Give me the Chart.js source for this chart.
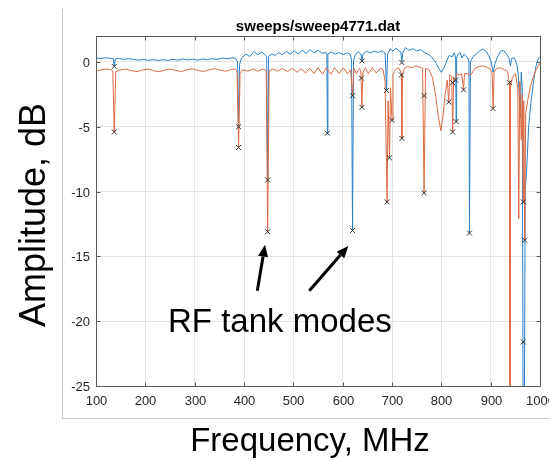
<!DOCTYPE html>
<html lang="en">
<head>
<meta charset="UTF-8">
<title>sweeps/sweep4771.dat</title>
<script src="https://cdn.jsdelivr.net/npm/chart.js@4"></script>
<style>
  html, body { margin: 0; padding: 0; background: #ffffff; }
  #chartCanvas { display: block; }
</style>
</head>
<body>
<canvas id="chartCanvas" width="549" height="461" style="width:549px;height:461px"></canvas>
<script>
// axis ticks
const xTicks = [100, 200, 300, 400, 500, 600, 700, 800, 900, 1000];
const yTicks = [0, -5, -10, -15, -20, -25];

// blue sweep: [frequency MHz, amplitude dB]
const bluePts = [
  [100,0.30],[110,0.27],[120,0.32],[130,0.27],[135,0.25],[137,-0.35],[139,0.22],[146,0.27],
  [156,0.20],[166,0.25],[176,0.19],[186,0.14],[196,0.20],[206,0.12],[216,0.18],[226,0.11],
  [236,0.17],[246,0.12],[256,0.20],[266,0.14],[276,0.22],[286,0.16],[296,0.21],[306,0.14],
  [316,0.22],[326,0.18],[336,0.25],[346,0.20],[356,0.30],[366,0.24],[376,0.32],[383,0.28],
  [387,0.0],[389,-5.0],[391,-0.2],[395,0.30],[404,0.60],[412,0.42],[420,0.80],[428,0.55],
  [436,0.78],[443,0.50],[446,0.40],[448,-9.1],[450,0.45],[456,0.62],[463,0.50],[470,0.72],
  [478,0.55],[486,0.80],[494,0.60],[502,0.86],[510,0.60],[518,0.90],[526,0.66],[534,0.95],
  [542,0.70],[550,0.90],[558,0.66],[566,0.72],[568,0.60],[569,-5.5],[570,0.60],[577,0.76],
  [585,0.60],[593,0.72],[601,0.56],[609,0.70],[615,0.60],[618,0.20],[620,-13.0],[622,0.10],
  [626,0.60],[632,0.76],[637,0.60],[639,0.08],[641,0.60],[648,0.82],[656,0.70],[664,0.82],
  [672,0.74],[680,0.86],[686,0.70],[689,-2.2],[691,0.60],[696,1.00],[702,0.85],[708,1.05],
  [714,0.90],[718,0.70],[720,0.05],[722,0.70],[727,1.10],[734,0.90],[742,1.02],[750,0.85],
  [758,0.95],[766,0.72],[773,0.60],[780,0.40],[788,0.0],[795,-0.5],[800,-0.8],[805,-0.5],
  [810,0.0],[816,0.50],[822,0.40],[826,0.70],[829,0.30],[830,-4.6],[831,0.30],[834,0.60],
  [838,0.72],[842,0.30],[846,0.60],[850,0.45],[854,0.30],[856,0.0],[857,-13.2],[859,0.0],
  [864,0.40],[871,0.62],[878,0.86],[884,1.00],[890,0.85],[896,0.50],[901,0.0],[905,-0.8],
  [909,-0.1],[914,0.40],[920,0.80],[926,0.90],[932,0.62],[937,0.30],[940,-0.3],[943,0.30],
  [948,0.30],[953,-0.2],[956,-1.0],[960,-4.3],[962,-0.8],[964,-2.0],[966,-30],[968,-30],
  [970,-10],[973,-8.3],[977,-5.0],[982,-3.0],[987,-1.5],[992,-0.3],[996,0.20],[1000,0.40]
];

// orange sweep: [frequency MHz, amplitude dB]
const orangePts = [
  [100,-0.70],[110,-0.62],[120,-0.55],[130,-0.60],[134,-0.70],[137,-5.4],[140,-0.75],[150,-0.62],
  [160,-0.55],[172,-0.68],[183,-0.75],[195,-0.62],[205,-0.55],[217,-0.68],[228,-0.75],[240,-0.62],
  [250,-0.55],[262,-0.66],[273,-0.74],[285,-0.60],[295,-0.54],[307,-0.66],[318,-0.74],[330,-0.60],
  [340,-0.52],[352,-0.64],[363,-0.72],[375,-0.58],[383,-0.55],[386,-0.80],[389,-6.6],[392,-0.90],
  [397,-0.60],[408,-0.72],[418,-0.55],[428,-0.72],[438,-0.55],[445,-0.65],[448,-13.1],[451,-0.70],
  [458,-0.55],[468,-0.72],[478,-0.50],[488,-0.75],[498,-0.50],[508,-0.80],[515,-0.50],[525,-0.85],
  [533,-0.50],[542,-0.90],[550,-0.45],[559,-0.95],[567,-0.45],[576,-0.95],[584,-0.45],[593,-0.90],
  [601,-0.45],[610,-0.90],[616,-0.60],[620,-2.6],[623,-0.50],[628,-0.90],[634,-0.50],[637,-0.70],
  [639,-3.5],[641,-0.80],[646,-0.45],[652,-0.90],[660,-0.45],[668,-0.85],[676,-0.50],[682,-0.60],
  [686,-1.5],[690,-10.8],[692,-3.0],[695,-7.4],[697,-2.0],[700,-4.5],[702,-1.0],[707,-0.60],
  [713,-0.45],[717,-0.70],[719,-1.0],[720,-5.9],[721,-1.0],[725,-0.50],[732,-0.35],[740,-0.45],
  [748,-0.30],[756,-0.40],[762,-0.50],[765,-10.1],[768,-0.50],[775,-0.60],[782,-1.2],[788,-2.5],
  [794,-4.2],[799,-5.3],[803,-4.3],[808,-2.4],[812,-1.4],[815,-3.1],[817,-1.0],[821,-1.1],
  [823,-5.4],[825,-1.2],[829,-1.4],[831,-0.90],[836,-1.0],[841,-0.90],[845,-2.15],[847,-0.90],
  [853,-0.90],[860,-1.0],[868,-0.50],[876,-0.35],[884,-0.30],[892,-0.40],[899,-0.55],[903,-0.90],
  [905,-3.6],[907,-0.80],[912,-0.50],[920,-0.45],[928,-0.60],[934,-0.70],[938,-1.6],[939,-30],
  [940,-2.0],[944,-1.2],[950,-0.90],[955,-2.0],[957,-12.1],[959,-1.5],[962,-6.0],[964,-2.5],
  [966,-10.8],[967,-3.0],[969,-13.75],[971,-4.0],[975,-3.0],[980,-2.0],[986,-1.2],[992,-0.60],
  [1000,-0.10]
];

// detected resonances (x markers): [frequency MHz, amplitude dB]
const markerPts = [
  [137,-0.35],[137,-5.4],[389,-5.0],[389,-6.6],[448,-9.1],[448,-13.1],[569,-5.5],[620,-13.0],
  [620,-2.6],[639,0.08],[638,-1.25],[639,-3.5],[689,-2.2],[690,-10.8],[695,-7.4],[700,-4.5],
  [720,-0.05],[719,-1.0],[720,-5.9],[765,-2.6],[765,-10.1],[815,-3.1],[823,-1.6],[823,-5.4],
  [829,-1.4],[830,-4.6],[845,-2.15],[857,-13.2],[905,-3.6],[938,-1.6],[966,-10.8],[969,-13.75],
  [966,-21.6]
];

// annotation arrows in data units: [tailFreq, tailDb, headFreq, headDb]
const arrows = [
  [427, -17.65, 442.6, -14.1],
  [532.4, -17.65, 611.5, -14.2]
];
const noteText = 'RF tank modes';
const notePos = [246, -20.84];

const FONT = '"Liberation Sans", Arial, Helvetica, sans-serif';

function toXY(pts) {
  return pts.map(p => ({ x: p[0], y: p[1] }));
}

function drawArrow(ctx, x1, y1, x2, y2) {
  const ang = Math.atan2(y2 - y1, x2 - x1);
  const headLen = 12, headW = 5;
  const bx = x2 - headLen * Math.cos(ang);
  const by = y2 - headLen * Math.sin(ang);
  ctx.beginPath();
  ctx.moveTo(x1, y1);
  ctx.lineTo(bx, by);
  ctx.stroke();
  ctx.beginPath();
  ctx.moveTo(x2, y2);
  ctx.lineTo(bx + headW * Math.sin(ang), by - headW * Math.cos(ang));
  ctx.lineTo(bx - headW * Math.sin(ang), by + headW * Math.cos(ang));
  ctx.closePath();
  ctx.fill();
}

const overlay = {
  id: 'overlay',
  afterDraw(chart) {
    const ctx = chart.ctx;
    const a = chart.chartArea;
    const xs = chart.scales.x, ys = chart.scales.y;
    ctx.save();

    // outer figure frame (left and bottom edges)
    ctx.strokeStyle = '#c6c6c6';
    ctx.lineWidth = 1;
    ctx.beginPath();
    ctx.moveTo(62.5, 9);
    ctx.lineTo(62.5, 418.5);
    ctx.lineTo(549, 418.5);
    ctx.stroke();

    // axes box
    const L = Math.round(a.left) + 0.5, R = Math.round(a.right) + 0.5;
    const T = Math.round(a.top) + 0.5, B = Math.round(a.bottom) + 0.5;
    ctx.strokeStyle = '#5a5a5a';
    ctx.strokeRect(L, T, R - L, B - T);

    // inward ticks + labels
    ctx.fillStyle = '#262626';
    ctx.font = '13px ' + FONT;
    ctx.textAlign = 'center';
    ctx.textBaseline = 'middle';
    xTicks.forEach(v => {
      const px = Math.round(xs.getPixelForValue(v)) + 0.5;
      ctx.beginPath();
      ctx.moveTo(px, B); ctx.lineTo(px, B - 4);
      ctx.moveTo(px, T); ctx.lineTo(px, T + 4);
      ctx.stroke();
      ctx.fillText(String(v), px, a.bottom + 15);
    });
    ctx.textAlign = 'right';
    yTicks.forEach(v => {
      const py = Math.round(ys.getPixelForValue(v)) + 0.5;
      ctx.beginPath();
      ctx.moveTo(L, py); ctx.lineTo(L + 4, py);
      ctx.moveTo(R, py); ctx.lineTo(R - 4, py);
      ctx.stroke();
      ctx.fillText(String(v), a.left - 6, py + 1);
    });

    // title
    ctx.textAlign = 'center';
    ctx.textBaseline = 'alphabetic';
    ctx.font = 'bold 15px ' + FONT;
    ctx.fillStyle = '#000000';
    ctx.fillText('sweeps/sweep4771.dat', (a.left + a.right) / 2, 31);

    // axis titles
    ctx.font = '33px ' + FONT;
    ctx.fillText('Frequency, MHz', 310, 451);
    ctx.save();
    ctx.translate(35, 215);
    ctx.rotate(-Math.PI / 2);
    ctx.font = '36px ' + FONT;
    ctx.textBaseline = 'middle';
    ctx.fillText('Amplitude, dB', 0, 0);
    ctx.restore();

    // annotation
    ctx.strokeStyle = '#000000';
    ctx.fillStyle = '#000000';
    ctx.lineWidth = 3;
    arrows.forEach(r => {
      drawArrow(ctx, xs.getPixelForValue(r[0]), ys.getPixelForValue(r[1]),
                xs.getPixelForValue(r[2]), ys.getPixelForValue(r[3]));
    });
    ctx.font = '33px ' + FONT;
    ctx.textAlign = 'left';
    ctx.fillText(noteText, xs.getPixelForValue(notePos[0]), ys.getPixelForValue(notePos[1]));

    ctx.restore();
  }
};

const ctx = document.getElementById('chartCanvas').getContext('2d');
const chart = new Chart(ctx, {
  type: 'line',
  data: {
    datasets: [
      {
        label: 'peaks',
        data: toXY(markerPts),
        showLine: false,
        pointStyle: 'crossRot',
        pointRadius: 3.5,
        pointBorderWidth: 1,
        pointBorderColor: '#333333',
        borderColor: '#333333',
        order: 0
      },
      {
        label: 'sweep B',
        data: toXY(orangePts),
        borderColor: '#dd6a42',
        borderWidth: 1,
        pointRadius: 0,
        tension: 0,
        order: 1
      },
      {
        label: 'sweep A',
        data: toXY(bluePts),
        borderColor: '#2a80c8',
        borderWidth: 1,
        pointRadius: 0,
        tension: 0,
        order: 2
      }
    ]
  },
  options: {
    responsive: false,
    animation: false,
    devicePixelRatio: 1,
    layout: { padding: { left: 96, right: 9, top: 36, bottom: 75 } },
    plugins: {
      legend: { display: false },
      tooltip: { enabled: false },
      title: { display: false }
    },
    scales: {
      x: {
        type: 'linear',
        min: 100,
        max: 1000,
        afterBuildTicks: s => { s.ticks = xTicks.map(v => ({ value: v })); },
        afterFit: s => { s.height = 0; },
        ticks: { display: false },
        grid: { color: '#e4e4e4', drawTicks: false },
        border: { display: false }
      },
      y: {
        type: 'linear',
        min: -25,
        max: 2,
        afterBuildTicks: s => { s.ticks = yTicks.map(v => ({ value: v })); },
        afterFit: s => { s.width = 0; },
        ticks: { display: false },
        grid: { color: '#e4e4e4', drawTicks: false },
        border: { display: false }
      }
    }
  },
  plugins: [overlay]
});
</script>
</body>
</html>
